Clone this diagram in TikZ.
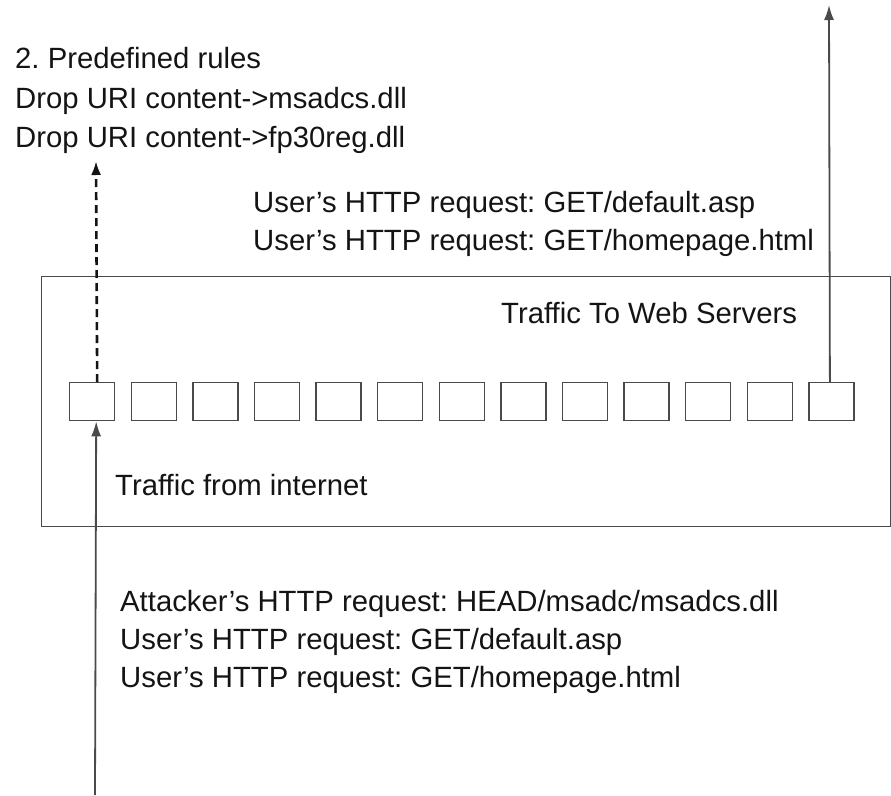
\documentclass[tikz,border=0pt]{standalone}
\usepackage{fontspec}
\setmainfont{Liberation Sans}
\usetikzlibrary{arrows.meta}
\definecolor{txt}{HTML}{141414}
\definecolor{ln}{HTML}{4A4A4A}
\tikzset{
  lbl/.style={anchor=base west, inner sep=0pt, text=txt, font=\fontsize{29.3}{34}\selectfont\frenchspacing},
  slot/.style={draw=ln, line width=1.4pt, minimum width=45pt, minimum height=38pt, inner sep=0pt, anchor=north west},
  frame/.style={draw=ln, line width=1.4pt, minimum width=849pt, minimum height=250pt, inner sep=0pt, anchor=north west},
  flow/.style={draw=ln, line width=1.8pt, -{Latex[length=15pt,width=10pt]}},
  dflow/.style={draw=txt, line width=2.6pt, dash pattern=on 8pt off 5pt, -{Latex[length=14pt,width=10pt]}}
}
\begin{document}
\begin{tikzpicture}[x=1pt,y=-1pt]
\useasboundingbox (0,0) rectangle (891,795);
\node[frame] (frame) at (41,276) {};
\foreach \i in {1,...,13}{
  \node[slot] (b\i) at ({69+61.6*(\i-1)},382) {};
}
% texts
\node[lbl] (r1) at (15,68) {2. Predefined rules};
\node[lbl] (r2) at (15,108) {Drop URI content->msadcs.dll};
\node[lbl] (r3) at (15,147) {Drop URI content->fp30reg.dll};
\node[lbl] (u1) at (253,212) {User's HTTP request: GET/default.asp};
\node[lbl] (u2) at (253,250) {User's HTTP request: GET/homepage.html};
\node[lbl] (tws) at (501,323) {Traffic To Web Servers};
\node[lbl] (tfi) at (115,495) {Traffic from internet};
\node[lbl] (a1) at (120,611) {Attacker's HTTP request: HEAD/msadc/msadcs.dll};
\node[lbl] (a2) at (120,649) {User's HTTP request: GET/default.asp};
\node[lbl] (a3) at (120,687) {User's HTTP request: GET/homepage.html};
% connectors
\coordinate (dtip) at (96,161);
\coordinate (ttip) at (829,5);
\coordinate (src) at (95,795);
\draw[dflow] ([xshift=5pt]b1.north) -- (dtip);
\draw[flow] ([xshift=-1.5pt]b13.north) -- (ttip);
\draw[flow] (src) -- ([xshift=4pt]b1.south);
\end{tikzpicture}
\end{document}
